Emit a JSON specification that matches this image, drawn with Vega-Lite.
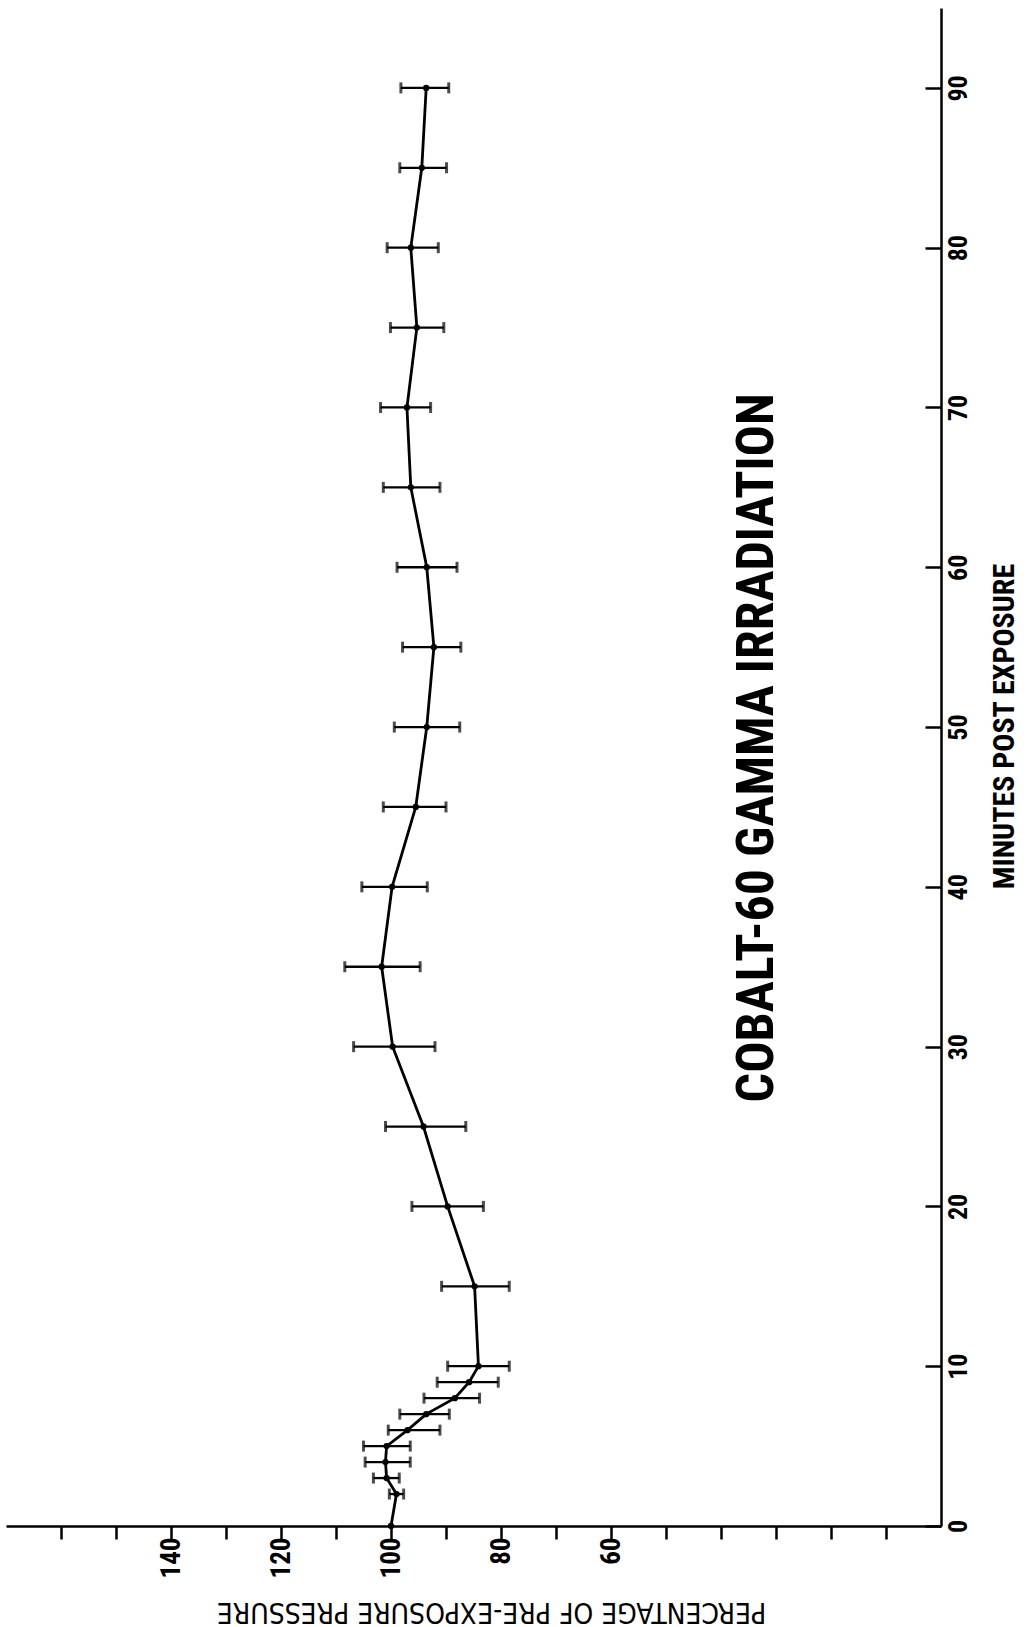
{
  "$schema": "https://vega.github.io/schema/vega-lite/v6.json",
  "width": 935,
  "height": 1518,
  "autosize": {"type": "none"},
  "padding": {"left": 6, "top": 8, "right": 89, "bottom": 101},
  "background": "white",
  "config": {
    "view": {"stroke": null},
    "axis": {"grid": false, "domainColor": "black", "tickColor": "black", "labelColor": "black", "titleColor": "black"}
  },
  "datasets": {
    "series": [
      {"min": 0, "pct": 100.0, "lo": null, "hi": null},
      {"min": 2, "pct": 99.0, "lo": 97.7, "hi": 100.3},
      {"min": 3, "pct": 100.8, "lo": 98.5, "hi": 103.2},
      {"min": 4, "pct": 101.0, "lo": 96.5, "hi": 104.7},
      {"min": 5, "pct": 100.8, "lo": 96.5, "hi": 105.0},
      {"min": 6, "pct": 97.0, "lo": 91.1, "hi": 100.5},
      {"min": 7, "pct": 93.6, "lo": 89.4, "hi": 98.4},
      {"min": 8, "pct": 88.4, "lo": 83.9, "hi": 94.0},
      {"min": 9, "pct": 85.8, "lo": 80.5, "hi": 91.6},
      {"min": 10, "pct": 84.1, "lo": 78.5, "hi": 89.7},
      {"min": 15, "pct": 84.8, "lo": 78.5, "hi": 90.8},
      {"min": 20, "pct": 89.7, "lo": 83.2, "hi": 96.2},
      {"min": 25, "pct": 94.1, "lo": 86.4, "hi": 101.0},
      {"min": 30, "pct": 99.7, "lo": 92.0, "hi": 106.8},
      {"min": 35, "pct": 101.7, "lo": 94.7, "hi": 108.4},
      {"min": 40, "pct": 99.8, "lo": 93.4, "hi": 105.3},
      {"min": 45, "pct": 95.5, "lo": 90.0, "hi": 101.4},
      {"min": 50, "pct": 93.5, "lo": 87.5, "hi": 99.4},
      {"min": 55, "pct": 92.2, "lo": 87.3, "hi": 97.9},
      {"min": 60, "pct": 93.5, "lo": 88.0, "hi": 98.9},
      {"min": 65, "pct": 96.4, "lo": 91.1, "hi": 101.4},
      {"min": 70, "pct": 97.1, "lo": 92.8, "hi": 101.9},
      {"min": 75, "pct": 95.3, "lo": 90.4, "hi": 100.1},
      {"min": 80, "pct": 96.4, "lo": 91.4, "hi": 100.7},
      {"min": 85, "pct": 94.4, "lo": 89.9, "hi": 98.4},
      {"min": 90, "pct": 93.6, "lo": 89.5, "hi": 98.2}
    ],
    "heading": [
      {"min": 48.7, "pct": 33.5, "label": "COBALT-60 GAMMA IRRADIATION"}
    ]
  },
  "data": {"name": "series"},
  "layer": [
    {
      "mark": {"type": "line", "color": "black", "strokeWidth": 2.8},
      "encoding": {
        "x": {
          "field": "pct", "type": "quantitative",
          "scale": {"domain": [0, 170], "reverse": true, "nice": false, "zero": false},
          "title": "PERCENTAGE OF PRE-EXPOSURE PRESSURE",
          "axis": {
            "orient": "bottom",
            "values": [10, 20, 30, 40, 50, 60, 70, 80, 90, 100, 110, 120, 130, 140, 150, 160],
            "labelExpr": "indexof([60, 80, 100, 120, 140], datum.value) >= 0 ? datum.label : ''",
            "labelAngle": 270, "labelAlign": "right", "labelBaseline": "middle",
            "labelFont": "Roboto Condensed, Noto Sans Condensed, DejaVu Sans Condensed, sans-serif", "labelFontWeight": "bold", "labelFontSize": 27,
            "labelPadding": -2, "labelFlush": false, "labelOverlap": false, "labelBound": false,
            "tickSize": 13, "tickWidth": 2.5, "domainWidth": 2.5,
            "titleAngle": 180, "titleFont": "DejaVu Sans Condensed, Roboto, sans-serif", "titleFontWeight": "normal", "titleFontSize": 28,
            "titleBaseline": "alphabetic", "titleAlign": "center", "titleX": 485, "titleY": 76
          }
        },
        "y": {
          "field": "min", "type": "quantitative",
          "scale": {"domain": [0, 95], "nice": false, "zero": false},
          "title": "MINUTES POST EXPOSURE",
          "axis": {
            "orient": "right",
            "values": [0, 10, 20, 30, 40, 50, 60, 70, 80, 90],
            "labelAngle": 270, "labelAlign": "center", "labelBaseline": "alphabetic",
            "labelFont": "Roboto Condensed, Noto Sans Condensed, DejaVu Sans Condensed, sans-serif", "labelFontWeight": "bold", "labelFontSize": 26,
            "labelPadding": 41, "labelFlush": false, "labelOverlap": false, "labelBound": false,
            "tickSize": -16, "tickWidth": 2.5, "domainWidth": 2.5,
            "titleAngle": 270, "titleFont": "Roboto Condensed, Noto Sans Condensed, DejaVu Sans Condensed, sans-serif", "titleFontWeight": "bold", "titleFontSize": 30,
            "titleBaseline": "alphabetic", "titleAlign": "center", "titleX": 72, "titleY": 718
          }
        },
        "order": {"field": "min", "type": "quantitative"}
      }
    },
    {
      "mark": {"type": "circle", "color": "black", "size": 40, "opacity": 1},
      "encoding": {
        "x": {"field": "pct", "type": "quantitative", "title": "PERCENTAGE OF PRE-EXPOSURE PRESSURE"},
        "y": {"field": "min", "type": "quantitative", "title": "MINUTES POST EXPOSURE"}
      }
    },
    {
      "transform": [{"filter": "datum.lo != null"}],
      "mark": {"type": "rule", "color": "black", "strokeWidth": 2.3},
      "encoding": {
        "x": {"field": "lo", "type": "quantitative", "title": "PERCENTAGE OF PRE-EXPOSURE PRESSURE"},
        "x2": {"field": "hi"},
        "y": {"field": "min", "type": "quantitative", "title": "MINUTES POST EXPOSURE"}
      }
    },
    {
      "transform": [{"filter": "datum.lo != null"}],
      "mark": {"type": "tick", "orient": "vertical", "color": "black", "size": 11, "thickness": 3},
      "encoding": {
        "x": {"field": "lo", "type": "quantitative", "title": "PERCENTAGE OF PRE-EXPOSURE PRESSURE"},
        "y": {"field": "min", "type": "quantitative", "title": "MINUTES POST EXPOSURE"}
      }
    },
    {
      "transform": [{"filter": "datum.lo != null"}],
      "mark": {"type": "tick", "orient": "vertical", "color": "black", "size": 11, "thickness": 3},
      "encoding": {
        "x": {"field": "hi", "type": "quantitative", "title": "PERCENTAGE OF PRE-EXPOSURE PRESSURE"},
        "y": {"field": "min", "type": "quantitative", "title": "MINUTES POST EXPOSURE"}
      }
    },
    {
      "data": {"name": "heading"},
      "mark": {"type": "text", "angle": 270, "align": "center", "baseline": "middle", "font": "Noto Sans ExtraCondensed, Roboto Condensed, Noto Sans Condensed, DejaVu Sans Condensed, sans-serif", "fontWeight": "bold", "fontSize": 52, "color": "black"},
      "encoding": {
        "x": {"field": "pct", "type": "quantitative", "title": "PERCENTAGE OF PRE-EXPOSURE PRESSURE"},
        "y": {"field": "min", "type": "quantitative", "title": "MINUTES POST EXPOSURE"},
        "text": {"field": "label"}
      }
    }
  ]
}
